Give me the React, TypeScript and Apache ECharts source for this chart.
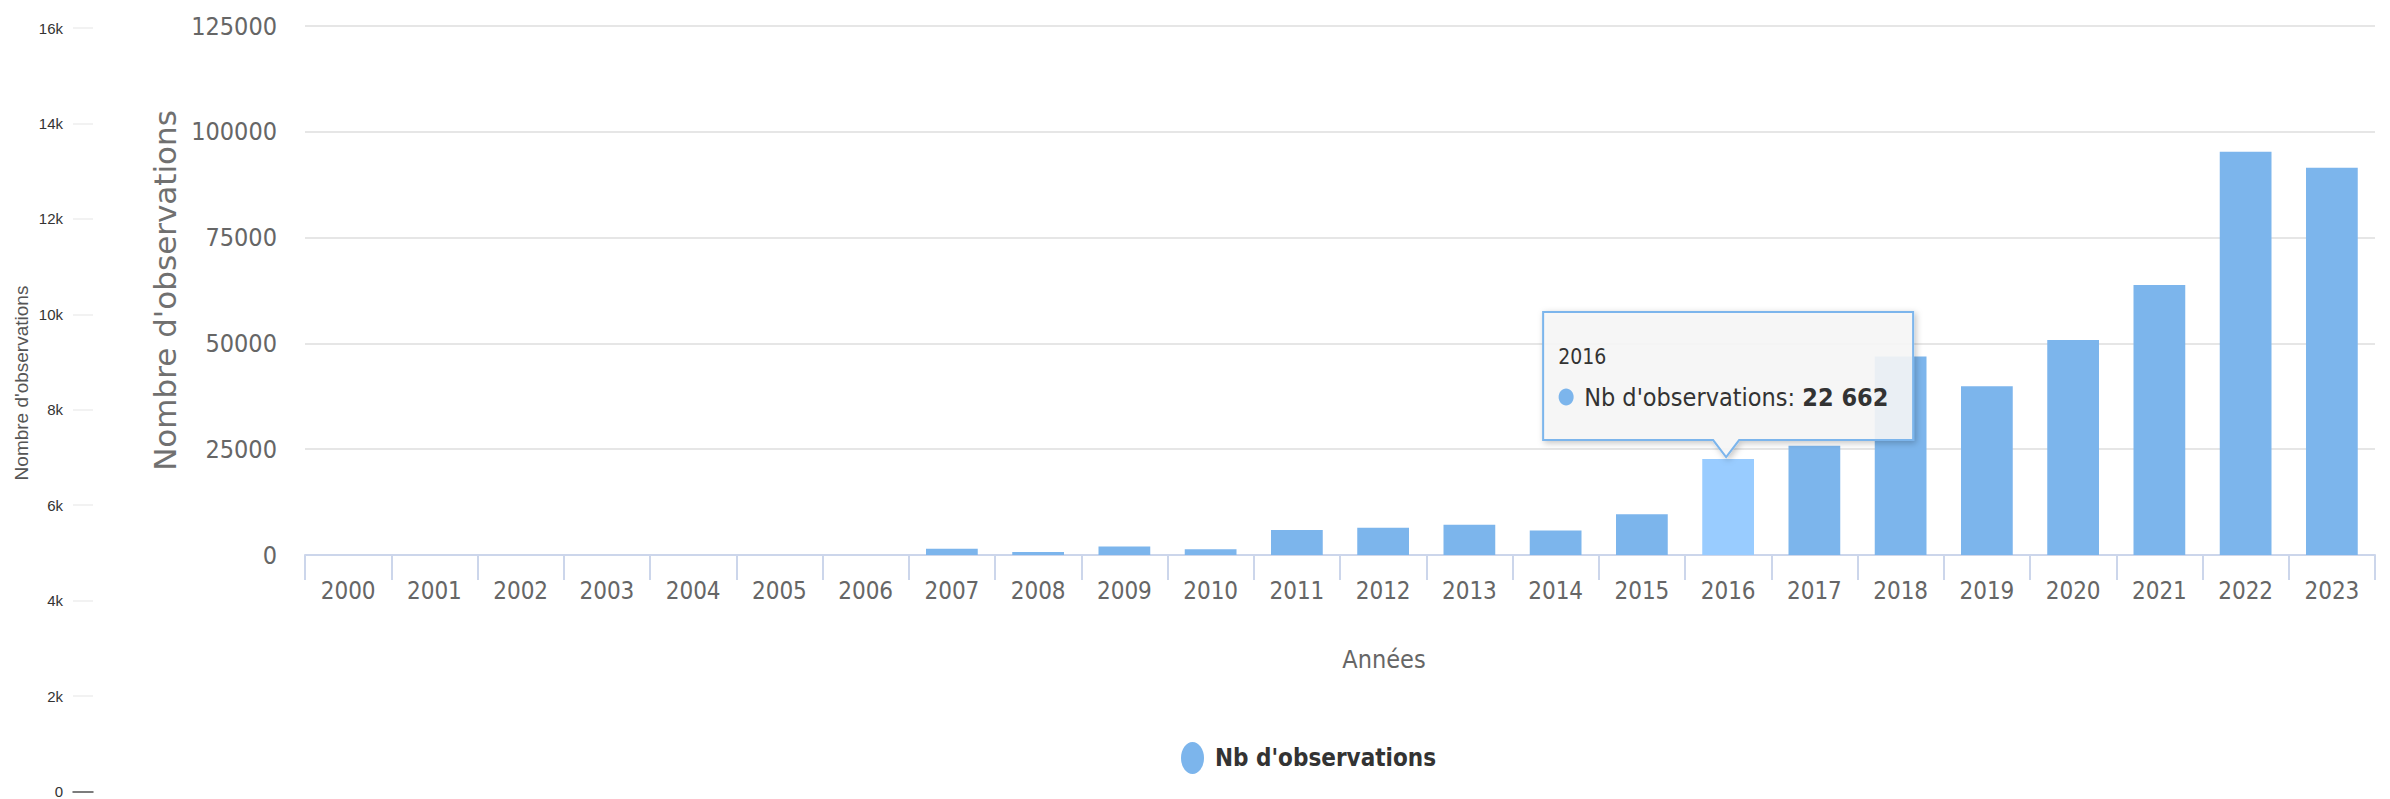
import React, { useEffect, useRef } from "react";
import * as echarts from "echarts";

const years = [
  "2000", "2001", "2002", "2003", "2004", "2005", "2006", "2007", "2008", "2009", "2010", "2011",
  "2012", "2013", "2014", "2015", "2016", "2017", "2018", "2019", "2020", "2021", "2022", "2023",
];
const observations = [
  0, 0, 0, 0, 0, 0, 0, 1450, 700, 2000, 1350, 5900,
  6450, 7150, 5800, 9600, 22662, 25800, 46900, 39900, 50800, 63800, 95300, 91500,
];
const mainTicks = [0, 25000, 50000, 75000, 100000, 125000];
const ghostTicks = [0, 2000, 4000, 6000, 8000, 10000, 12000, 14000, 16000];
const seriesName = "Nb d'observations";
const yTitle = "Nombre d'observations";
const xTitle = "Années";
const hoverYear = "2016";

const NARROW = "'Liberation Sans Narrow', 'DejaVu Sans Condensed', 'Open Sans', sans-serif";
const BLUE = "#7cb5ec";

const fmtSpace = (v: number) => String(v).replace(/\B(?=(\d{3})+(?!\d))/g, " ");

export default function App() {
  const ref = useRef<HTMLDivElement>(null);
  useEffect(() => {
    document.body.style.margin = "0";
    const chart = echarts.init(ref.current!, null, { renderer: "svg" });
    const hoverIdx = years.indexOf(hoverYear);
    const option: any = {
      animation: false,
      backgroundColor: "#ffffff",
      grid: [
        { left: 305, right: 15, top: 26, bottom: 244, containLabel: false },
        { left: 73, width: 20, top: 28, bottom: 7, containLabel: false },
      ],
      legend: {
        data: [seriesName],
        left: 1176,
        top: 737,
        itemWidth: 23,
        itemHeight: 32,
        itemGap: 17,
        symbolKeepAspect: false,
        icon: "path://M50,0A50,50,0,1,1,50,100A50,50,0,1,1,50,0Z",
        textStyle: { fontFamily: NARROW, fontSize: 24, fontWeight: "bold", color: "#333333", padding: [0, 0, 0, 6] },
      },
      xAxis: [
        {
          type: "category",
          gridIndex: 0,
          data: years,
          name: xTitle,
          nameLocation: "middle",
          nameGap: 92,
          nameTextStyle: { fontFamily: NARROW, fontSize: 25, color: "#666666", padding: [0, 0, 0, 88] },
          axisLine: { lineStyle: { color: "#ccd6eb", width: 2 } },
          axisTick: { show: true, alignWithLabel: false, length: 25, lineStyle: { color: "#ccd6eb", width: 2 } },
          axisLabel: { fontFamily: NARROW, fontSize: 24, color: "#666666", margin: 24, interval: 0 },
          splitLine: { show: false },
        },
        {
          type: "value",
          gridIndex: 1,
          min: 0,
          max: 1,
          axisLine: { show: true, lineStyle: { color: "#555555", width: 1.5 } },
          axisTick: { show: false },
          axisLabel: { show: false },
          splitLine: { show: false },
        },
      ],
      yAxis: [
        {
          type: "value",
          gridIndex: 0,
          min: mainTicks[0],
          max: mainTicks[mainTicks.length - 1],
          interval: mainTicks[1] - mainTicks[0],
          name: yTitle,
          nameLocation: "middle",
          nameRotate: 90,
          nameGap: 112,
          nameTextStyle: { fontFamily: "'DejaVu Sans', sans-serif", fontSize: 31, color: "#707070" },
          axisLine: { show: false },
          axisTick: { show: false },
          axisLabel: {
            fontFamily: NARROW,
            fontSize: 25,
            color: "#666666",
            margin: 28,
            formatter: (v: number) => String(v),
          },
          splitLine: { lineStyle: { color: "#e6e6e6", width: 2 } },
        },
        {
          type: "value",
          gridIndex: 1,
          min: ghostTicks[0],
          max: ghostTicks[ghostTicks.length - 1],
          interval: ghostTicks[1] - ghostTicks[0],
          axisLine: { show: false },
          axisTick: { show: false },
          axisLabel: {
            fontFamily: "'Liberation Sans', sans-serif",
            fontSize: 15,
            color: "#333333",
            margin: 10,
            formatter: (v: number) => (v === 0 ? "0" : v / 1000 + "k"),
          },
          splitLine: { lineStyle: { color: "#eeeeee", width: 1.5 } },
        },
      ],
      series: [
        {
          name: seriesName,
          type: "bar",
          xAxisIndex: 0,
          yAxisIndex: 0,
          barCategoryGap: "40%",
          itemStyle: { color: BLUE },
          data: observations.map((v, i) =>
            i === hoverIdx ? { value: v, itemStyle: { color: "#99ccff" } } : v
          ),
        },
        {
          name: "ghost",
          type: "line",
          xAxisIndex: 1,
          yAxisIndex: 1,
          data: [],
          silent: true,
        },
      ],
      graphic: [
        {
          type: "text",
          x: 21,
          y: 383,
          rotation: Math.PI / 2,
          style: {
            text: yTitle,
            fontFamily: "'Liberation Sans', sans-serif",
            fontSize: 19,
            fill: "#555555",
            align: "center",
            verticalAlign: "middle",
          },
        },
      ],
    };
    chart.setOption(option);

    const val = observations[hoverIdx];
    const pt = chart.convertToPixel({ xAxisIndex: 0, yAxisIndex: 0 } as any, [hoverIdx, val]) as number[];
    const tipX = pt[0] - 2;
    const tipY = pt[1] - 1;
    chart.setOption({
      graphic: [
        option.graphic[0],
        {
          type: "group",
          x: tipX,
          y: tipY,
          z: 100,
          zlevel: 1,
          children: [
            {
              type: "polygon",
              z: 100,
              zlevel: 1,
              shape: {
                points: [
                  [-183, -146],
                  [187, -146],
                  [187, -18],
                  [13, -18],
                  [0, -1],
                  [-13, -18],
                  [-183, -18],
                ],
              },
              style: {
                fill: "rgba(248,248,248,0.88)",
                stroke: BLUE,
                lineWidth: 2,
                shadowBlur: 6,
                shadowColor: "rgba(0,0,0,0.25)",
                shadowOffsetX: 2,
                shadowOffsetY: 2,
              },
            },
            {
              type: "text",
              z: 101,
              zlevel: 1,
              x: -168,
              y: -101,
              style: {
                text: hoverYear,
                fontFamily: NARROW,
                fontSize: 21,
                fill: "#333333",
                verticalAlign: "middle",
              },
            },
            {
              type: "ellipse",
              z: 101,
              zlevel: 1,
              shape: { cx: -160, cy: -61, rx: 7.5, ry: 8.5 },
              style: { fill: BLUE },
            },
            {
              type: "text",
              z: 101,
              zlevel: 1,
              x: -142,
              y: -61,
              style: {
                text: "{a|" + seriesName + ": }{b|" + fmtSpace(val) + "}",
                verticalAlign: "middle",
                rich: {
                  a: { fontFamily: NARROW, fontSize: 25, fill: "#333333", color: "#333333" },
                  b: { fontFamily: NARROW, fontSize: 25, fontWeight: "bold", fill: "#333333", color: "#333333" },
                },
              },
            },
          ],
        },
      ],
    });
    return () => chart.dispose();
  }, []);
  return <div ref={ref} style={{ width: 2390, height: 799 }} />;
}
